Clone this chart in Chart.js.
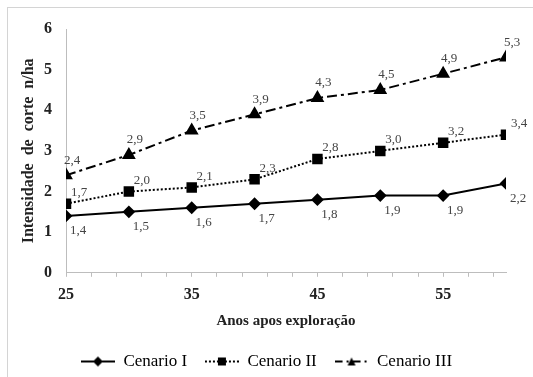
<!DOCTYPE html>
<html>
<head>
<meta charset="utf-8">
<script src="https://cdn.jsdelivr.net/npm/chart.js@4"></script>
<style>
html, body { margin: 0; padding: 0; background: #fff; overflow: hidden; }
#wrap { position: relative; width: 533px; height: 377px; }
#frame { position: absolute; left: 7px; top: 7px; width: 600px; height: 400px; border: 1px solid #d4d4d4; }
canvas { position: absolute; left: 0; top: 0; }
</style>
</head>
<body>
<div id="wrap">
  <div id="frame"></div>
  <canvas id="jsChart" width="533" height="377"></canvas>
</div>
<script>
// data
const years = [25, 30, 35, 40, 45, 50, 55, 60];
const cenarioI = [1.4, 1.5, 1.6, 1.7, 1.8, 1.9, 1.9, 2.2];
const cenarioII = [1.7, 2.0, 2.1, 2.3, 2.8, 3.0, 3.2, 3.4];
const cenarioIII = [2.4, 2.9, 3.5, 3.9, 4.3, 4.5, 4.9, 5.3];
const seriesNames = ['Cenario I', 'Cenario II', 'Cenario III'];

const xTickValues = [25, 27, 29, 31, 33, 35, 37, 39, 41, 43, 45, 47, 49, 51, 53, 55, 57, 59];
const xTickLabels = [25, 35, 45, 55];

const serif = 'Liberation Serif';

// label offsets (dx, dy) per series
const labelOffsets = [[12, 15], [13, -11], [6, -15]];

const toPoints = (vals) => years.map((x, i) => ({x: x, y: vals[i]}));

// small legend icons: line + marker
function legendIcon(dash, marker) {
  const c = document.createElement('canvas');
  c.width = 34; c.height = 14;
  const g = c.getContext('2d');
  g.strokeStyle = '#000';
  g.lineWidth = 2;
  g.setLineDash(dash);
  g.beginPath(); g.moveTo(0, 7); g.lineTo(34, 7); g.stroke();
  g.setLineDash([]);
  g.fillStyle = '#000';
  g.beginPath();
  if (marker === 'diamond') {
    g.moveTo(17, 2); g.lineTo(22, 7); g.lineTo(17, 12); g.lineTo(12, 7);
  } else if (marker === 'square') {
    g.rect(13, 3, 8, 8);
  } else {
    g.moveTo(17, 3); g.lineTo(21, 11); g.lineTo(13, 11);
  }
  g.closePath(); g.fill();
  return c;
}

const icons = [
  legendIcon([], 'diamond'),
  legendIcon([2, 2], 'square'),
  legendIcon([8, 4, 2, 4], 'triangle'),
];

const valueLabels = {
  id: 'valueLabels',
  afterDatasetsDraw(chart) {
    const ctx = chart.ctx;
    ctx.save();
    ctx.font = '13px "' + serif + '"';
    ctx.fillStyle = '#444';
    ctx.textAlign = 'center';
    ctx.textBaseline = 'middle';
    chart.data.datasets.forEach((ds, i) => {
      const meta = chart.getDatasetMeta(i);
      meta.data.forEach((pt, j) => {
        const txt = ds.data[j].y.toFixed(1).replace('.', ',');
        ctx.fillText(txt, pt.x + labelOffsets[i][0], pt.y + labelOffsets[i][1]);
      });
    });
    ctx.restore();
  }
};

const ctx = document.getElementById('jsChart');

new Chart(ctx, {
  type: 'line',
  data: {
    datasets: [
      {
        label: seriesNames[0],
        data: toPoints(cenarioI),
        borderColor: '#000',
        backgroundColor: '#000',
        borderWidth: 2,
        pointStyle: 'rectRot',
        pointRadius: 5,
      },
      {
        label: seriesNames[1],
        data: toPoints(cenarioII),
        borderColor: '#000',
        backgroundColor: '#000',
        borderWidth: 2,
        borderDash: [2, 2],
        pointStyle: 'rect',
        pointRadius: 6,
      },
      {
        label: seriesNames[2],
        data: toPoints(cenarioIII),
        borderColor: '#000',
        backgroundColor: '#000',
        borderWidth: 2,
        borderDash: [10, 4, 3, 4],
        pointStyle: 'triangle',
        pointRadius: 6,
      },
    ],
  },
  options: {
    responsive: false,
    animation: false,
    devicePixelRatio: 1,
    layout: { padding: { left: 0, right: 0, top: 29, bottom: -3 } },
    plugins: {
      tooltip: { enabled: false },
      legend: {
        position: 'bottom',
        labels: {
          usePointStyle: true,
          pointStyleWidth: 34,
          color: '#222',
          padding: 5,
          font: { family: serif, size: 17 },
          generateLabels: (chart) => chart.data.datasets.map((ds, i) => ({
            text: i < 2 ? ds.label + '   ' : ds.label,
            pointStyle: icons[i],
            fillStyle: '#000',
            strokeStyle: '#000',
            lineWidth: 0,
            hidden: false,
            datasetIndex: i,
          })),
        },
      },
    },
    scales: {
      x: {
        type: 'linear',
        min: 25,
        max: 60,
        afterBuildTicks: (scale) => {
          scale.ticks = xTickValues.map((v) => ({value: v}));
        },
        ticks: {
          autoSkip: false,
          maxRotation: 0,
          padding: 8,
          color: '#222',
          font: { family: serif, size: 16, weight: 'bold' },
          callback: (v) => (xTickLabels.includes(v) ? String(v) : ''),
        },
        grid: {
          drawOnChartArea: false,
          tickLength: 4,
          color: '#bdbdbd',
        },
        border: { color: '#bdbdbd', width: 1 },
        title: {
          display: true,
          text: 'Anos apos exploração',
          color: '#222',
          font: { family: serif, size: 15, weight: 'bold' },
          padding: { top: 0, bottom: 18 },
        },
      },
      y: {
        min: 0,
        max: 6,
        afterFit: (scale) => { scale.width = 66; },
        ticks: {
          stepSize: 1,
          padding: 14,
          color: '#222',
          font: { family: serif, size: 16, weight: 'bold' },
        },
        grid: { display: false, drawTicks: false },
        border: { color: '#bdbdbd', width: 1 },
        title: {
          display: true,
          text: 'Intensidade  de  corte  n/ha',
          color: '#222',
          font: { family: serif, size: 16, weight: 'bold' },
          padding: { top: 19, bottom: 0 },
        },
      },
      // empty right-hand spacer so the plot ends at the reference's right edge
      yRight: {
        position: 'right',
        min: 0,
        max: 6,
        afterFit: (scale) => { scale.width = 27; },
        ticks: { display: false },
        grid: { display: false, drawTicks: false },
        border: { display: false },
      },
    },
  },
  plugins: [valueLabels],
});
</script>
</body>
</html>
